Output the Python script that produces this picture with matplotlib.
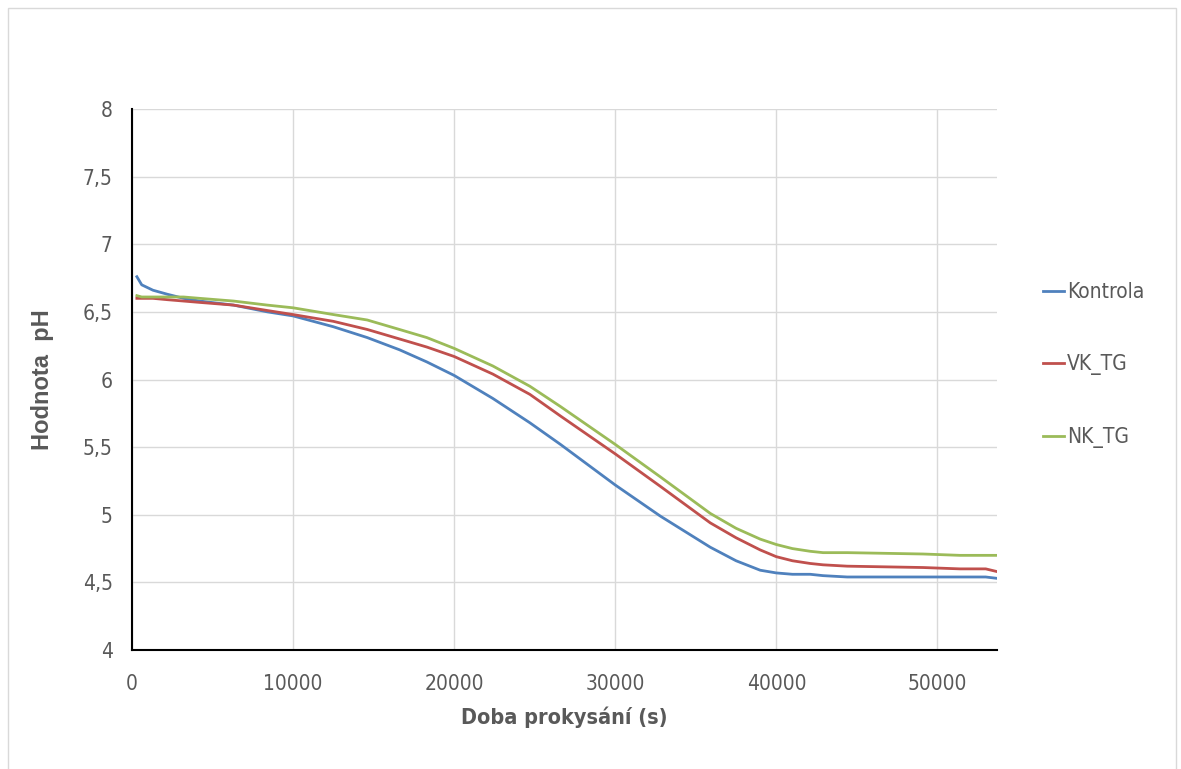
import matplotlib.pyplot as plt
from matplotlib.patches import Rectangle
from matplotlib.ticker import FuncFormatter

# čas prokysání (s) a odečtené hodnoty pH
cas = [300, 600, 1300, 2200, 3200, 4200, 6300, 8400, 10000, 12500, 14600, 16600,
       18300, 20000, 22400, 24700, 26600, 28300, 30000, 32800, 35900, 37500,
       39000, 40000, 41000, 42100, 42900, 44400, 49100, 51400, 53000, 53700]
kontrola = [6.76, 6.70, 6.66, 6.63, 6.60, 6.58, 6.55, 6.50, 6.47, 6.39, 6.31, 6.22,
            6.13, 6.03, 5.86, 5.68, 5.52, 5.37, 5.22, 4.99, 4.76, 4.66,
            4.59, 4.57, 4.56, 4.56, 4.55, 4.54, 4.54, 4.54, 4.54, 4.53]
vk_tg = [6.60, 6.60, 6.60, 6.59, 6.58, 6.57, 6.55, 6.51, 6.48, 6.43, 6.37, 6.30,
         6.24, 6.17, 6.04, 5.89, 5.73, 5.59, 5.45, 5.21, 4.94, 4.83,
         4.74, 4.69, 4.66, 4.64, 4.63, 4.62, 4.61, 4.60, 4.60, 4.58]
nk_tg = [6.62, 6.61, 6.61, 6.61, 6.61, 6.60, 6.58, 6.55, 6.53, 6.48, 6.44, 6.37,
         6.31, 6.23, 6.10, 5.95, 5.80, 5.66, 5.52, 5.28, 5.01, 4.90,
         4.82, 4.78, 4.75, 4.73, 4.72, 4.72, 4.71, 4.70, 4.70, 4.70]

serie = [('Kontrola', kontrola, '#4F81BD'),
         ('VK_TG', vk_tg, '#C0504D'),
         ('NK_TG', nk_tg, '#9BBB59')]

plt.rcParams['font.family'] = ['DejaVu Sans']
plt.rcParams['font.stretch'] = 'condensed'
seda = '#595959'

fig = plt.figure(figsize=(11.81, 7.69), dpi=100)
ax = fig.add_axes([0.1118, 0.1547, 0.7324, 0.7036])

for nazev, ph, barva in serie:
    ax.plot(cas, ph, color=barva, lw=2, label=nazev)

ax.set_xlim(0, 53700)
ax.set_ylim(4, 8)
ax.set_xticks(range(0, 50001, 10000))
ax.set_yticks([4, 4.5, 5, 5.5, 6, 6.5, 7, 7.5, 8])
ax.yaxis.set_major_formatter(FuncFormatter(lambda v, p: f'{v:g}'.replace('.', ',')))
ax.tick_params(length=0, labelsize=15, labelcolor=seda)
ax.tick_params(axis='y', pad=14)
ax.tick_params(axis='x', pad=17)
ax.grid(True, color='#D9D9D9', lw=1)
ax.set_axisbelow(True)
for s in ['top', 'right']:
    ax.spines[s].set_visible(False)
for s in ['left', 'bottom']:
    ax.spines[s].set_color('black')
    ax.spines[s].set_linewidth(1.5)

fig.text(564 / 1181, 1 - 717 / 769, 'Doba prokysání (s)', ha='center', va='center',
         fontsize=15.5, fontweight='bold', color=seda)
fig.text(42 / 1181, 1 - 380 / 769, 'Hodnota  pH', ha='center', va='center',
         rotation=90, fontsize=17, fontweight='bold', color=seda,
         family=['Liberation Sans', 'DejaVu Sans'], fontstretch='normal')

leg = fig.legend(loc='center left', bbox_to_anchor=(1024 / 1181, 1 - 365 / 769),
                 frameon=False, fontsize=15, handlelength=1.0, handletextpad=0.15,
                 labelspacing=2.5)
for t in leg.get_texts():
    t.set_color(seda)

# světlý rámeček kolem celého grafu
fig.patches.append(Rectangle((8 / 1181, -0.01), 1168 / 1181, 1 - 8 / 769 + 0.01,
                             transform=fig.transFigure, fill=False,
                             edgecolor='#D9D9D9', lw=1))

fig.savefig('out.png', dpi=100)
